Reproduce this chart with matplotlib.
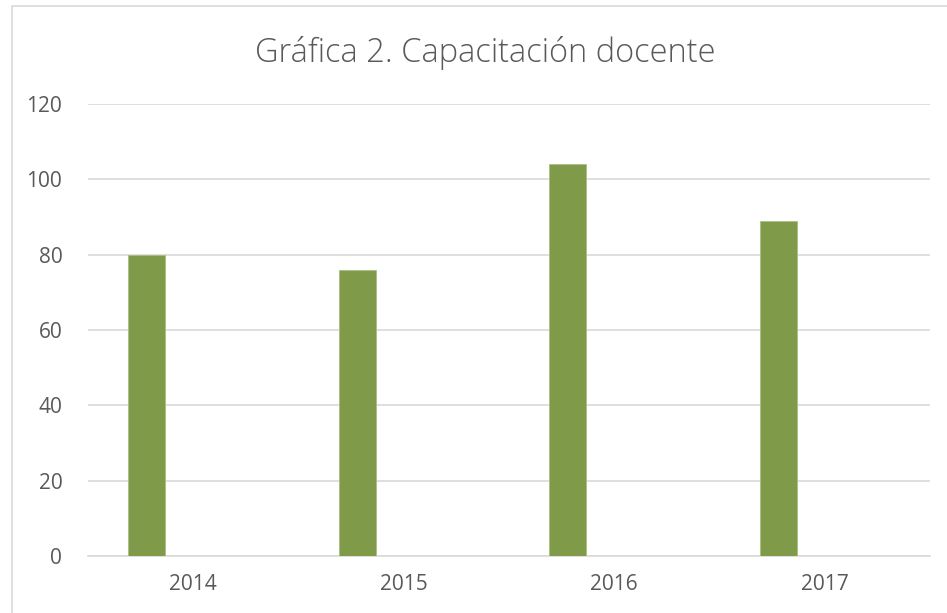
import matplotlib
matplotlib.use("Agg")
import matplotlib.pyplot as plt
import numpy as np
from matplotlib.patches import Rectangle

# Chart data
years = ["2014", "2015", "2016", "2017"]
docentes = [80, 76, 104, 89]
y_ticks = [0, 20, 40, 60, 80, 100, 120]

text_color = "#595959"
grid_color = "#d9d9d9"
bar_color = "#7f9a48"

plt.rcParams["font.family"] = ["Open Sans", "DejaVu Sans"]

fig = plt.figure(figsize=(9.47, 6.13), dpi=100)
ax = fig.add_axes([88 / 947, 57 / 613, 842 / 947, 452 / 613])

# chart frame
fig.patches.append(Rectangle((12 / 947, -0.01), 1.0, 1.0 - 6 / 613 + 0.01,
                             transform=fig.transFigure, fill=False,
                             edgecolor=grid_color, linewidth=1.2))

x = np.arange(len(years))
ax.bar(x - 0.221, docentes, width=0.176, color=bar_color,
       edgecolor="#a9bf80", linewidth=0.6, zorder=3)

ax.set_xlim(-0.5, len(years) - 0.5)
ax.set_ylim(0, 120)
ax.set_yticks(y_ticks)
ax.set_xticks(x)
ax.set_xticklabels(years)
ax.yaxis.grid(True, color=grid_color, linewidth=1.2)
ax.set_axisbelow(True)
for side in ("top", "right", "left"):
    ax.spines[side].set_visible(False)
ax.spines["bottom"].set_color(grid_color)
ax.spines["bottom"].set_linewidth(1.2)
ax.tick_params(length=0, labelsize=15, labelcolor=text_color)
ax.tick_params(axis="x", pad=13)
ax.tick_params(axis="y", pad=18.5)

fig.text(0.512, 0.913, "Gráfica 2. Capacitación docente", ha="center",
         va="center", fontsize=23.5, color=text_color, fontweight="light")

fig.savefig("out.png", dpi=100)
